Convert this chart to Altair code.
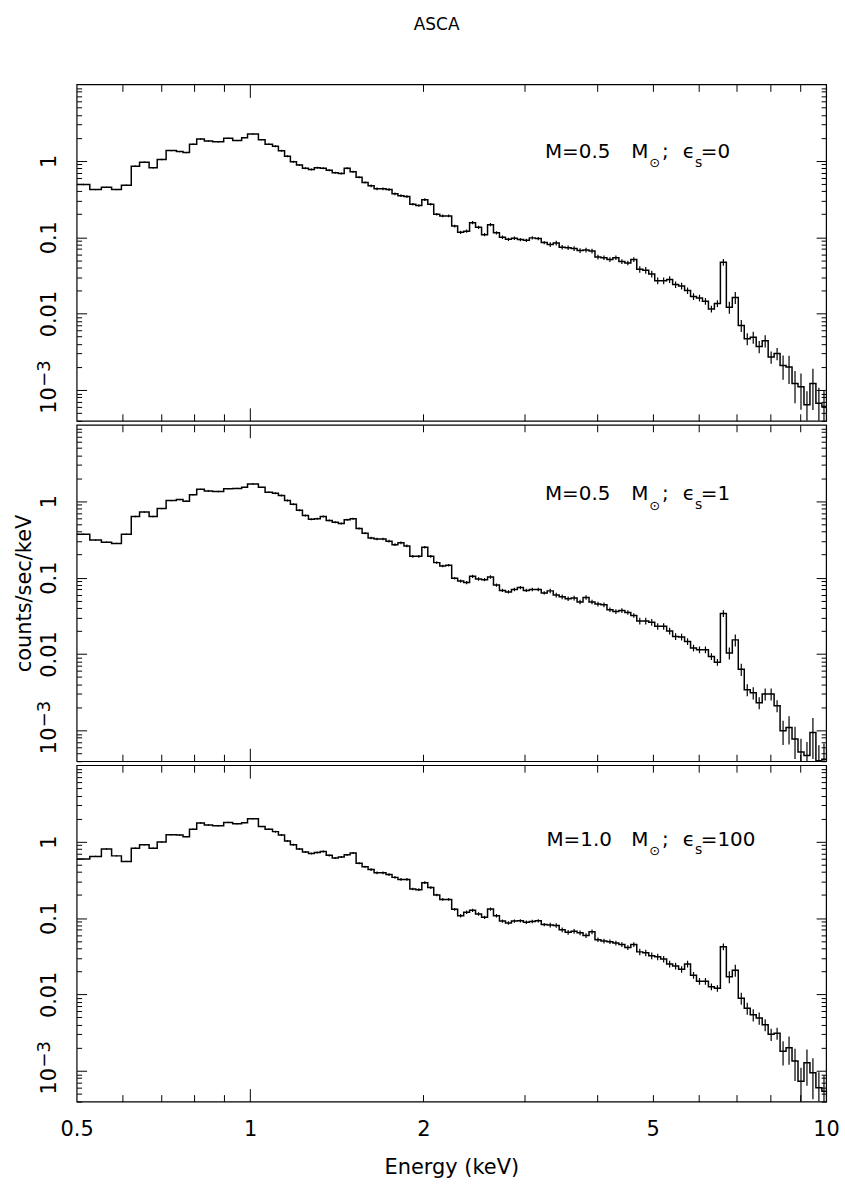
import altair as alt
import pandas as pd

FONT = "DejaVu Sans"

# Bin edges in keV (shared by all three spectra)
EDGES = [
    0.500, 0.527, 0.552, 0.575, 0.598, 0.622, 0.643, 0.668, 0.690, 0.715, 0.745,
    0.765, 0.785, 0.808, 0.833, 0.861, 0.900, 0.933, 0.967, 0.990, 1.034, 1.062,
    1.094, 1.120, 1.148, 1.175, 1.204, 1.233, 1.263, 1.293, 1.324, 1.356,
    1.389, 1.423, 1.457, 1.492, 1.528, 1.565, 1.603, 1.642, 1.681, 1.722,
    1.764, 1.806, 1.850, 1.894, 1.940, 1.987, 2.035, 2.084, 2.135, 2.186,
    2.239, 2.293, 2.349, 2.405, 2.463, 2.523, 2.584, 2.646, 2.710, 2.776,
    2.843, 2.911, 2.982, 3.054, 3.127, 3.203, 3.280, 3.360, 3.441, 3.524,
    3.609, 3.696, 3.785, 3.877, 3.970, 4.066, 4.165, 4.265, 4.368, 4.474,
    4.582, 4.692, 4.806, 4.922, 5.041, 5.162, 5.287, 5.415, 5.546, 5.680,
    5.817, 5.957, 6.101, 6.248, 6.399, 6.554, 6.712, 6.874, 7.040, 7.210,
    7.385, 7.563, 7.746, 7.933, 8.124, 8.320, 8.521, 8.727, 8.938, 9.154,
    9.375, 9.601, 9.833, 10.0,
]

# counts/sec/keV, panel 1: M=0.5 Msun, eps_s=0
FLUX_1 = [
    0.49, 0.42, 0.45, 0.42, 0.48, 0.85, 0.96, 0.81, 1.04, 1.36, 1.32, 1.28, 1.65,
    1.93, 1.82, 1.77, 1.97, 1.84, 2.01, 2.24, 1.89, 1.65,
    1.55, 1.35, 1.15, 0.97, 0.88, 0.80, 0.77, 0.81, 0.80, 0.75, 0.70, 0.68, 0.80,
    0.72, 0.61, 0.52, 0.47, 0.43, 0.43, 0.42, 0.37, 0.35, 0.34, 0.27, 0.26, 0.31,
    0.27, 0.20, 0.19, 0.19, 0.14,
    0.116, 0.120, 0.155, 0.135, 0.108, 0.146, 0.114, 0.100, 0.094, 0.097,
    0.093, 0.091, 0.098, 0.096, 0.085, 0.080, 0.084, 0.074, 0.073, 0.071,
    0.067, 0.068, 0.066, 0.055, 0.054, 0.051, 0.054, 0.048, 0.046, 0.051,
    0.038, 0.037, 0.033, 0.027, 0.027, 0.028, 0.024, 0.023, 0.020, 0.0168,
    0.0160, 0.0145, 0.0115, 0.0136, 0.047, 0.0121, 0.0163, 0.0070, 0.0047, 0.0049,
    0.0037, 0.0044, 0.0027, 0.0030, 0.0021, 0.0020, 0.00122, 0.00110, 0.00064, 0.00122,
    0.00067, 0.00061,
]

# panel 2: M=0.5 Msun, eps_s=1
FLUX_2 = [
    0.37, 0.31, 0.29, 0.28, 0.37, 0.63, 0.72, 0.63, 0.80, 1.02, 1.05, 1.00, 1.21,
    1.43, 1.36, 1.34, 1.46, 1.47, 1.52, 1.68, 1.52, 1.31,
    1.27, 1.19, 1.02, 0.91, 0.76, 0.65, 0.58, 0.59, 0.63, 0.56, 0.53, 0.51, 0.57,
    0.59, 0.44, 0.38, 0.33, 0.32, 0.32, 0.30, 0.27, 0.285, 0.26, 0.19, 0.19, 0.25,
    0.19, 0.157, 0.142, 0.145, 0.098,
    0.090, 0.086, 0.104, 0.096, 0.094, 0.102, 0.080, 0.068, 0.065, 0.070,
    0.074, 0.068, 0.070, 0.070, 0.063, 0.067, 0.059, 0.056, 0.053, 0.054,
    0.048, 0.055, 0.048, 0.045, 0.044, 0.038, 0.036, 0.037, 0.035, 0.032,
    0.027, 0.027, 0.026, 0.023, 0.023, 0.020, 0.017, 0.0167, 0.0146, 0.0120,
    0.0114, 0.0114, 0.0093, 0.0078, 0.034, 0.0103, 0.0153, 0.0063, 0.0034, 0.0031,
    0.0023, 0.0030, 0.0030, 0.0021, 0.00099, 0.00109, 0.00077, 0.00052, 0.00047, 0.00094,
    0.00040, 0.00042,
]

# panel 3: M=1.0 Msun, eps_s=100
FLUX_3 = [
    0.59, 0.64, 0.80, 0.65, 0.55, 0.82, 0.91, 0.82, 0.99, 1.23, 1.22, 1.16, 1.45,
    1.75, 1.65, 1.61, 1.78, 1.71, 1.77, 1.99, 1.57, 1.45,
    1.35, 1.22, 1.02, 0.91, 0.80, 0.73, 0.70, 0.72, 0.74, 0.66, 0.61, 0.63, 0.67,
    0.71, 0.52, 0.47, 0.43, 0.39, 0.39, 0.37, 0.34, 0.32, 0.32, 0.24, 0.235, 0.29,
    0.25, 0.20, 0.175, 0.175, 0.13,
    0.107, 0.119, 0.126, 0.113, 0.102, 0.131, 0.107, 0.091, 0.086, 0.091,
    0.092, 0.088, 0.090, 0.092, 0.082, 0.081, 0.080, 0.070, 0.065, 0.067,
    0.064, 0.059, 0.066, 0.052, 0.050, 0.049, 0.047, 0.045, 0.041, 0.045,
    0.036, 0.035, 0.032, 0.031, 0.029, 0.025, 0.0236, 0.0213, 0.025, 0.0178,
    0.0149, 0.0149, 0.0126, 0.0120, 0.042, 0.0170, 0.0207, 0.0089, 0.0066, 0.0054,
    0.0049, 0.0040, 0.0030, 0.0031, 0.0018, 0.0020, 0.00134, 0.00073, 0.00127, 0.00094,
    0.00060, 0.00054,
]

# relative 1-sigma error per bin (shared)
REL_ERR = [
    0.02, 0.02, 0.02, 0.02, 0.02, 0.02, 0.02, 0.02, 0.02, 0.02, 0.02,
    0.02, 0.02, 0.02, 0.02, 0.02, 0.02, 0.02, 0.02, 0.02, 0.02, 0.02,
    0.03, 0.03, 0.03, 0.03, 0.03, 0.03, 0.03, 0.03, 0.03, 0.03, 0.03, 0.03, 0.03, 0.03, 0.03, 0.03,
    0.04, 0.04, 0.04, 0.04, 0.04, 0.04, 0.04, 0.04, 0.04, 0.04, 0.04, 0.04, 0.04, 0.04, 0.04,
    0.05, 0.05, 0.05, 0.05, 0.05, 0.05, 0.05, 0.05, 0.05, 0.05, 0.05, 0.05, 0.05, 0.05, 0.05,
    0.07, 0.07, 0.07, 0.07, 0.07, 0.07, 0.07, 0.07, 0.07, 0.07, 0.07, 0.07, 0.07, 0.07, 0.07,
    0.10, 0.10, 0.10, 0.10, 0.10, 0.10, 0.10, 0.10, 0.10, 0.10, 0.10, 0.10, 0.10, 0.10, 0.10,
    0.18, 0.18, 0.18, 0.18, 0.18, 0.18, 0.18, 0.18, 0.18,
    0.35, 0.40, 0.45, 0.50, 0.50, 0.55, 0.60, 0.60,
]

X_DOMAIN = [0.5, 10.0]
Y_DOMAIN = [3.95e-4, 10.0]
X_LABELS = [0.5, 1, 2, 5, 10]
X_MAJOR = [1, 10]
X_MINOR = [0.6, 0.7, 0.8, 0.9, 2, 3, 4, 5, 6, 7, 8, 9]
Y_MAJOR = [0.001, 0.01, 0.1, 1]
Y_LABELED = [0.01, 0.1, 1]
Y_POWER = [0.001]
Y_MINOR = [
    0.0004, 0.0005, 0.0006, 0.0007, 0.0008, 0.0009,
    0.002, 0.003, 0.004, 0.005, 0.006, 0.007, 0.008, 0.009,
    0.02, 0.03, 0.04, 0.05, 0.06, 0.07, 0.08, 0.09,
    0.2, 0.3, 0.4, 0.5, 0.6, 0.7, 0.8, 0.9,
    2, 3, 4, 5, 6, 7, 8, 9,
]

# annotation pieces: text, energy, level
ANNOT_1 = (["M=0.5", "M", "\u2299", ";", "\u03f5", "s", "=0"],
           [3.25, 4.59, 4.93, 5.19, 5.64, 5.92, 6.06],
           [1.10, 1.10, 0.82, 1.10, 1.10, 0.84, 1.10])
ANNOT_2 = (["M=0.5", "M", "\u2299", ";", "\u03f5", "s", "=1"],
           [3.25, 4.59, 4.93, 5.19, 5.64, 5.92, 6.06],
           [1.03, 1.03, 0.76, 1.03, 1.03, 0.78, 1.03])
ANNOT_3 = (["M=1.0", "M", "\u2299", ";", "\u03f5", "s", "=100"],
           [3.27, 4.59, 4.93, 5.19, 5.64, 5.92, 6.06],
           [0.87, 0.87, 0.66, 0.87, 0.87, 0.68, 0.87])
ANNOT_SIZE = [20, 20, 13, 20, 20, 14, 20]

XS = alt.Scale(type="log", domain=X_DOMAIN, nice=False)
YS = alt.Scale(type="log", domain=Y_DOMAIN, nice=False)

LABEL_SIZE = 21


def spectrum_df(flux):
    rows = [{"E": EDGES[i], "v": v} for i, v in enumerate(flux)]
    rows.append({"E": EDGES[len(flux)], "v": flux[-1]})
    return pd.DataFrame(rows)


def error_df(flux):
    rows = []
    for i, v in enumerate(flux):
        c = (EDGES[i] * EDGES[i + 1]) ** 0.5
        e = REL_ERR[i]
        rows.append({"Ec": c, "lo": v * (1 - e), "hi": v * (1 + e)})
    return pd.DataFrame(rows)


def tick_axis(orient, values, size):
    return alt.Axis(orient=orient, values=values, labels=False, domain=False,
                    grid=False, ticks=True, tickSize=size, offset=-size,
                    tickColor="black", tickWidth=1, title=None)


def ylabel_axis(values, expr, size, padding, offset, title=None):
    kw = dict(orient="left", values=values, labelExpr=expr, ticks=False, domain=False,
              grid=False, labelFont=FONT, labelFontSize=size, labelColor="black",
              labelAngle=-90, labelAlign="center", labelBaseline="alphabetic",
              labelPadding=padding, labelOffset=offset, labelFlush=False)
    if title:
        return alt.Axis(title=title, titleFont=FONT, titleFontSize=21,
                        titleFontWeight="normal", titleColor="black", titlePadding=4, **kw)
    return alt.Axis(title=None, **kw)


def panel(flux, annot, bottom_labels, y_title):
    spec = spectrum_df(flux)
    errs = error_df(flux)

    if bottom_labels:
        x_axis = alt.Axis(orient="bottom", values=X_LABELS, format="~g", ticks=False,
                          domain=False, grid=False, labelFont=FONT, labelFontSize=LABEL_SIZE,
                          labelColor="black", labelPadding=17, labelFlush=False,
                          title="Energy (keV)", titleFont=FONT, titleFontSize=21,
                          titleFontWeight="normal", titleColor="black", titlePadding=17)
    else:
        x_axis = None

    y_axis = ylabel_axis(
        Y_LABELED,
        "datum.value < 0.05 ? '0.01' : (datum.value < 0.5 ? '0.1' : '1')",
        LABEL_SIZE, 21, 0, "counts/sec/keV" if y_title else None)

    line = alt.Chart(spec).mark_line(
        interpolate="step-after", clip=True, color="black", strokeWidth=1.5
    ).encode(
        x=alt.X("E:Q", scale=XS, axis=x_axis),
        y=alt.Y("v:Q", scale=YS, axis=y_axis),
    )

    bars = alt.Chart(errs).mark_rule(clip=True, color="black", strokeWidth=1.2).encode(
        x=alt.X("Ec:Q", scale=XS, axis=None),
        y=alt.Y("lo:Q", scale=YS, axis=None),
        y2="hi:Q",
    )

    def dummy(xaxis, yaxis):
        return alt.Chart(spec).mark_point(opacity=0, size=1).encode(
            x=alt.X("E:Q", scale=XS, axis=xaxis),
            y=alt.Y("v:Q", scale=YS, axis=yaxis),
        )

    axes_layers = [
        dummy(tick_axis("bottom", X_MAJOR, 13), None),
        dummy(tick_axis("bottom", X_MINOR, 7), None),
        dummy(tick_axis("top", X_MAJOR, 13), None),
        dummy(tick_axis("top", X_MINOR, 7), None),
        dummy(None, tick_axis("left", Y_MAJOR, 10)),
        dummy(None, tick_axis("left", Y_MINOR, 5)),
        dummy(None, tick_axis("right", Y_MAJOR, 10)),
        dummy(None, tick_axis("right", Y_MINOR, 5)),
        dummy(None, ylabel_axis(Y_POWER, "'10'", LABEL_SIZE, 21, 10)),
        dummy(None, ylabel_axis(Y_POWER, "'\u22123'", 18, 27, -17)),
    ]

    txt_df = pd.DataFrame({"t": annot[0], "E": annot[1], "v": annot[2], "fs": ANNOT_SIZE})
    text = alt.Chart(txt_df).mark_text(
        align="left", baseline="alphabetic", font=FONT, color="black"
    ).encode(
        x=alt.X("E:Q", scale=XS, axis=None),
        y=alt.Y("v:Q", scale=YS, axis=None),
        text="t:N",
        size=alt.Size("fs:Q", scale=None, legend=None),
    )

    return alt.layer(line, bars, *axes_layers, text).resolve_axis(
        x="independent", y="independent"
    ).properties(width=753, height=338)


p1 = panel(FLUX_1, ANNOT_1, False, False)
p2 = panel(FLUX_2, ANNOT_2, False, True)
p3 = panel(FLUX_3, ANNOT_3, True, False)

chart = alt.vconcat(p1, p2, p3, spacing=0).properties(
    title=alt.TitleParams("ASCA", font=FONT, fontSize=17, fontWeight="normal",
                          color="black", offset=50, anchor="middle", dx=10),
    padding={"left": 13, "top": 12, "right": 5, "bottom": 5},
    background="white",
).configure_view(stroke="black", strokeWidth=1.2).configure_axis(grid=False)

chart.save("out.html", embed_options={"renderer": "svg", "actions": False})
